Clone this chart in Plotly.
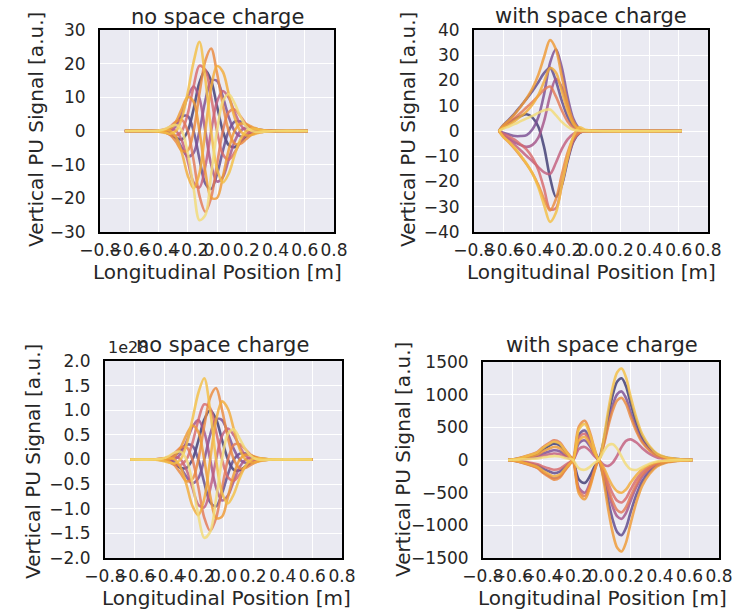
import plotly.graph_objects as go

# ---------------- tick definitions ----------------
X_TICKS = [-0.8, -0.6, -0.4, -0.2, 0.0, 0.2, 0.4, 0.6, 0.8]
X_TICK_TEXT = ["\u22120.8", "\u22120.6", "\u22120.4", "\u22120.2", "0.0", "0.2", "0.4", "0.6", "0.8"]

TL_YTICKS = [-30, -20, -10, 0, 10, 20, 30]
TL_YTEXT = ["\u221230", "\u221220", "\u221210", "0", "10", "20", "30"]
TR_YTICKS = [-40, -30, -20, -10, 0, 10, 20, 30, 40]
TR_YTEXT = ["\u221240", "\u221230", "\u221220", "\u221210", "0", "10", "20", "30", "40"]
BL_YTICKS = [-2.0, -1.5, -1.0, -0.5, 0.0, 0.5, 1.0, 1.5, 2.0]
BL_YTEXT = ["\u22122.0", "\u22121.5", "\u22121.0", "\u22120.5", "0.0", "0.5", "1.0", "1.5", "2.0"]
BR_YTICKS = [-1500, -1000, -500, 0, 500, 1000, 1500]
BR_YTEXT = ["\u22121500", "\u22121000", "\u2212500", "0", "500", "1000", "1500"]

# ---------------- top-left: no space charge ----------------
TL_X = [-0.63, -0.46, -0.40, -0.36, -0.32, -0.28, -0.24, -0.20, -0.16, -0.12, -0.08,
        -0.04, 0.00, 0.04, 0.08, 0.12, 0.16, 0.20, 0.24, 0.28, 0.32, 0.40, 0.62]
TL_CURVES = [
    [0, 0, -0.1, -0.3, -1.0, -2.1, -2.5, 0, 6.5, 14.4, 18, 14.9, 7.4, 0, -4.2, -4.8, -3.3, -1.5, -0.4, 0, 0.1, 0, 0],
    [0, 0, 0, 0.2, 0.9, 2.4, 4.3, 4.4, 0, -8.3, -15.6, -17.2, -12.9, -5.9, 0, 2.8, 2.8, 1.8, 0.7, 0.2, 0, 0, 0],
    [0, 0, 0.1, 0, -0.5, -2.1, -5.0, -7.6, -6.5, 0, 9.0, 14.9, 14.9, 10.2, 4.2, 0, -1.6, -1.5, -0.9, -0.3, -0.1, 0, 0],
    [0, 0, -0.1, -0.2, 0, 1.4, 5.1, 10.2, 13.2, 9.7, 0, -10.0, -15.0, -13.7, -8.5, -3.2, 0, 1.0, 0.9, 0.5, 0.2, 0, 0],
    [0, 0, 0.1, 0.4, 0.6, 0, -2.9, -8.9, -15.3, -16.8, -10.5, 0, 8.7, 11.9, 9.9, 5.6, 1.9, 0, -0.5, -0.4, -0.2, 0, 0],
    [0, 0, -0.1, -0.4, -1.0, -1.4, 0, 5.1, 13.2, 19.4, 18.2, 10.0, 0, -6.9, -8.5, -6.4, -3.3, -1.0, 0, 0.2, 0.2, 0, 0],
    [0, 0, 0.1, 0.4, 1.3, 2.8, 3.3, 0, -8.7, -19.2, -24.0, -19.8, -9.9, 0, 5.6, 6.4, 4.4, 2.0, 0.6, 0, -0.1, 0, 0],
    [0, 0, 0, -0.2, -1.2, -3.2, -5.8, -5.8, 0, 11.1, 20.8, 24.5, 17.2, 7.8, 0, -3.7, -3.8, -2.4, -1.0, -0.3, 0, 0, 0],
    [0, 0, -0.1, 0, 0.7, 2.8, 6.7, 10.1, 8.7, 0, -12.0, -19.8, -19.9, -13.6, -5.6, 0, 2.2, 2.0, 1.2, 0.5, 0.1, 0, 0],
    [0, 0, 0.1, 0.3, 0, -1.8, -6.5, -13.2, -17.0, -12.5, 0, 12.9, 19.3, 17.6, 11.0, 4.1, 0, -1.3, -1.1, -0.6, -0.2, 0, 0],
    [0, 0, -0.2, -0.5, -0.8, 0, 3.8, 11.4, 20.5, 26.5, 15.5, 0, -11.2, -15.3, -12.7, -7.2, -2.5, 0, 0.7, 0.5, 0.2, 0, 0],
    [0, 0, 0.1, 0.5, 1.3, 1.8, 0, -6.6, -17.0, -26.5, -25.0, -12.9, 0, 8.8, 11.0, 8.3, 4.3, 1.3, 0, -0.3, -0.2, 0, 0],
]

# ---------------- top-right: with space charge ----------------
TR_X = [-0.63, -0.60, -0.56, -0.52, -0.48, -0.44, -0.40, -0.36, -0.32, -0.28, -0.24,
        -0.20, -0.16, -0.12, -0.08, -0.04, 0.05, 0.62]
TR_CURVES = [
    [0, 1.6, 3.2, 4.8, 5.9, 6.6, 5.3, 1.7, -6.6, -18.5, -26.1, -21.6, -11.9, -4.1, -0.9, 0, 0, 0],
    [0, 2.3, 4.6, 7.1, 9.9, 12.8, 15.8, 19.3, 23.0, 25.0, 19.8, 12.0, 5.7, 1.9, 0.4, 0, 0, 0],
    [0, -0.7, -1.4, -2.0, -2.0, -1.6, 0.7, 5.5, 14.8, 27.0, 32.4, 25.2, 13.5, 4.7, 1.0, 0, 0, 0],
    [0, -1.5, -3.0, -4.5, -5.6, -6.3, -5.5, -2.6, 4.1, 14.0, 20.7, 17.4, 9.6, 3.4, 0.7, 0, 0, 0],
    [0, -1.8, -3.6, -5.6, -7.7, -9.9, -12.0, -14.3, -16.4, -17.0, -12.6, -7.2, -3.3, -1.1, -0.2, 0, 0, 0],
    [0, -1.1, -2.2, -3.5, -5.3, -7.4, -10.6, -15.5, -23.0, -31.0, -30.6, -21.6, -11.1, -3.8, -0.8, 0, 0, 0],
    [0, 1.7, 3.4, 5.2, 7.2, 9.4, 11.5, 13.9, 16.4, 17.6, 13.7, 8.2, 3.8, 1.2, 0.2, 0, 0, 0],
    [0, -2.3, -4.6, -7.2, -10.1, -13.2, -16.8, -21.4, -27.1, -31.5, -27.0, -17.4, -8.6, -2.8, -0.6, 0, 0, 0],
    [0, 2.2, 4.3, 6.8, 9.7, 13.0, 16.9, 22.3, 29.5, 36.0, 32.4, 21.6, 10.8, 3.6, 0.7, 0, 0, 0],
    [0, 1.3, 2.5, 4.0, 5.8, 7.8, 10.5, 14.3, 19.7, 24.9, 23.2, 15.8, 8.0, 2.7, 0.5, 0, 0, 0],
    [0, -2.2, -4.3, -6.8, -9.7, -13.0, -16.9, -22.3, -29.5, -36.0, -32.4, -21.6, -10.8, -2.0, 1.5, 0.5, 0, 0],
    [0, 0.9, 1.8, 2.8, 3.9, 5.0, 6.0, 7.2, 8.2, 8.5, 6.3, 3.6, 1.7, 0.5, 0.1, 0, 0, 0],
]

# ---------------- bottom-left: no space charge (units of 1e28) ----------------
BL_X = [-0.63, -0.47, -0.41, -0.37, -0.33, -0.29, -0.25, -0.21, -0.17, -0.13, -0.09,
        -0.05, -0.01, 0.03, 0.07, 0.11, 0.15, 0.19, 0.23, 0.27, 0.33, 0.60]
BL_CURVES = [
    [0, 0, -0.01, -0.03, -0.09, -0.17, -0.17, 0, 0.38, 0.81, 1.0, 0.82, 0.40, 0, -0.21, -0.22, -0.14, -0.06, -0.01, 0, 0, 0],
    [0, 0, 0, 0.02, 0.08, 0.19, 0.30, 0.28, 0, -0.47, -0.87, -0.95, -0.69, -0.30, 0, 0.12, 0.12, 0.07, 0.02, 0.01, 0, 0],
    [0, 0, 0.01, 0, -0.05, -0.17, -0.35, -0.48, -0.38, 0, 0.50, 0.82, 0.80, 0.53, 0.21, 0, -0.07, -0.06, -0.03, -0.01, 0, 0],
    [0, 0, -0.01, -0.02, 0, 0.11, 0.36, 0.66, 0.80, 0.56, 0, -0.57, -0.83, -0.73, -0.43, -0.15, 0, 0.04, 0.03, 0.01, 0, 0],
    [0, 0, 0.02, 0.04, 0.06, 0, -0.21, -0.57, -0.92, -0.97, -0.60, 0, 0.48, 0.63, 0.49, 0.26, 0.08, 0, -0.02, -0.01, 0, 0],
    [0, 0, -0.01, -0.05, -0.10, -0.11, 0, 0.33, 0.80, 1.12, 1.04, 0.57, 0, -0.36, -0.43, -0.30, -0.14, -0.04, 0, 0.01, 0, 0],
    [0, 0, 0.01, 0.05, 0.13, 0.24, 0.25, 0, -0.56, -1.18, -1.45, -1.19, -0.58, 0, 0.30, 0.31, 0.20, 0.08, 0.02, 0, 0, 0],
    [0, 0, 0, -0.03, -0.12, -0.28, -0.44, -0.40, 0, 0.68, 1.26, 1.45, 1.01, 0.44, 0, -0.18, -0.17, -0.10, -0.04, -0.01, 0, 0],
    [0, 0, -0.01, 0, 0.07, 0.24, 0.50, 0.69, 0.56, 0, -0.73, -1.19, -1.16, -0.76, -0.30, 0, 0.10, 0.08, 0.04, 0.01, 0, 0],
    [0, 0, 0.02, 0.03, 0, -0.16, -0.51, -0.94, -1.13, -0.80, 0, 0.80, 1.18, 1.03, 0.61, 0.21, 0, -0.06, -0.04, -0.02, 0, 0],
    [0, 0, -0.03, -0.06, -0.08, 0, 0.30, 0.81, 1.35, 1.65, 1.0, 0, -0.68, -0.89, -0.70, -0.37, -0.12, 0, 0.02, 0.02, 0, 0],
    [0, 0, 0.02, 0.07, 0.14, 0.16, 0, -0.47, -1.13, -1.59, -1.47, -0.80, 0, 0.52, 0.61, 0.42, 0.20, 0.06, 0, -0.01, 0, 0],
]

# ---------------- bottom-right: with space charge ----------------
BR_X = [-0.63, -0.58, -0.53, -0.48, -0.43, -0.39, -0.35, -0.32, -0.28, -0.25, -0.22,
        -0.19, -0.15, -0.11, -0.075, -0.045, -0.015, 0.02, 0.05, 0.08, 0.11, 0.14, 0.17,
        0.20, 0.24, 0.28, 0.33, 0.38, 0.44, 0.52, 0.62]
BR_CURVES = [
    [0, 13, 38, 68, 105, 170, 220, 250, 225, 150, 75, 0, -298, -350, -245, -105, 0, 313, 688, 1000, 1200, 1250, 1125, 875, 575, 350, 188, 88, 38, 13, 0],
    [0, -10, -30, -54, -84, -136, -176, -200, -180, -120, -60, 0, 383, 450, 315, 135, 0, -288, -633, -920, -1104, -1150, -1035, -805, -529, -322, -173, -81, -35, -12, 0],
    [0, 8, 23, 41, 63, 102, 132, 150, 135, 90, 45, 0, 255, 300, 210, 90, 0, 263, 578, 840, 1008, 1050, 945, 735, 483, 294, 158, 74, 32, 11, 0],
    [0, -14, -42, -76, -118, -190, -246, -280, -252, -168, -84, 0, -425, -500, -350, -150, 0, -225, -495, -720, -864, -900, -810, -630, -414, -252, -135, -63, -27, -9, 0],
    [0, 5, 15, 27, 42, 68, 88, 100, 90, 60, 30, 0, 170, 200, 140, 60, 0, -75, -90, -40, 67, 200, 293, 315, 267, 181, 93, 39, 16, 5, 0],
    [0, -8, -23, -41, -63, -102, -132, -150, -135, -90, -45, 0, 340, 400, 280, 120, 0, -163, -358, -520, -624, -650, -585, -455, -299, -182, -98, -46, -20, -7, 0],
    [0, 15, 45, 81, 126, 204, 264, 300, 270, 180, 90, 0, -468, -550, -385, -165, 0, -200, -440, -640, -768, -800, -720, -560, -368, -224, -120, -56, -24, -8, 0],
    [0, -15, -45, -81, -126, -204, -264, -300, -270, -180, -90, 0, 510, 600, 420, 180, 0, 238, 523, 760, 912, 950, 855, 665, 437, 266, 143, 67, 29, 10, 0],
    [0, 10, 30, 54, 84, 136, 176, 200, 180, 120, 60, 0, -510, -600, -420, -180, 0, -350, -770, -1120, -1344, -1400, -1260, -980, -644, -392, -210, -98, -42, -14, 0],
    [0, -13, -38, -68, -105, -170, -220, -250, -225, -150, -75, 0, 298, 350, 245, 105, 0, -125, -275, -400, -480, -500, -450, -350, -230, -140, -75, -35, -15, -5, 0],
    [0, 14, 42, 76, 118, 190, 246, 280, 252, 168, 84, 0, 468, 550, 385, 165, 0, 350, 770, 1120, 1344, 1400, 1260, 980, 644, 392, 210, 98, 42, 14, 0],
    [0, 3, 9, 16, 25, 41, 53, 60, 54, 36, 18, 0, -128, -150, -105, -45, 0, 138, 228, 240, 173, 50, -68, -140, -152, -111, -55, -22, -9, -2, 0],
]

CURVE_COLORS = ["#3f3b72", "#5e4a8c", "#7d4f93", "#a5558a", "#c35f7d", "#d86a6c",
                "#e57a55", "#ec8a3e", "#f09a35", "#f3ad3a", "#f4c046", "#f3dc78"]

TITLES = ["no space charge", "with space charge", "no space charge", "with space charge"]
X_LABEL = "Longitudinal Position [m]"
Y_LABEL = "Vertical PU Signal [a.u.]"

FONT = "DejaVu Sans"
TXT = "#262626"
W, H = 740, 612

fig = go.Figure()

panels = [
    ("x", "y", TL_X, TL_CURVES),
    ("x2", "y2", TR_X, TR_CURVES),
    ("x3", "y3", BL_X, BL_CURVES),
    ("x4", "y4", BR_X, BR_CURVES),
]
for xa, ya, xs, curves in panels:
    for i, ys in enumerate(curves):
        fig.add_trace(go.Scatter(
            x=xs, y=ys, mode="lines", xaxis=xa, yaxis=ya,
            line=dict(color=CURVE_COLORS[i], width=2.6, shape="spline", smoothing=0.9),
            opacity=0.82, showlegend=False, hoverinfo="skip"))

# panel frames in pixels: (left, right, top, bottom)
frames = [(100, 334, 30, 232), (474, 708, 30, 232), (105, 342, 361, 558), (483, 719, 362, 558)]
yinfo = [([-30, 30], TL_YTICKS, TL_YTEXT), ([-40, 40], TR_YTICKS, TR_YTEXT),
         ([-2, 2], BL_YTICKS, BL_YTEXT), ([-1500, 1500], BR_YTICKS, BR_YTEXT)]

tickfont = dict(family=FONT, size=17, color=TXT)
common = dict(showgrid=True, gridcolor="white", gridwidth=1.3, zeroline=False,
              showline=True, linecolor="black", linewidth=2, mirror=True,
              ticks="", tickfont=tickfont, automargin=False)

layout = dict(width=W, height=H, margin=dict(l=0, r=0, t=0, b=0, pad=0),
              paper_bgcolor="white", plot_bgcolor="#EAEAF2", showlegend=False)

for k, ((l, r, t, b), (yr, yt, ytt)) in enumerate(zip(frames, yinfo)):
    sfx = "" if k == 0 else str(k + 1)
    layout["xaxis" + sfx] = dict(domain=[l / W, r / W], range=[-0.8, 0.8],
                                 tickvals=X_TICKS, ticktext=X_TICK_TEXT, tickangle=0,
                                 anchor="y" + sfx, ticklabelstandoff=2, **common)
    layout["yaxis" + sfx] = dict(domain=[1 - b / H, 1 - t / H], range=yr,
                                 tickvals=yt, ticktext=ytt, anchor="x" + sfx,
                                 ticklabelstandoff=9, **common)

fig.update_layout(**layout)

ann = []
title_pos = [(217, 17), (591, 16), (223, 345), (602, 345)]
xlab_pos = [(217, 272), (591, 272), (226, 598), (602, 598)]
ylab_pos = [(36, 130), (408, 130), (33, 462), (403, 460)]
for k in range(4):
    tx, ty = title_pos[k]
    ann.append(dict(text=TITLES[k], x=tx / W, y=1 - ty / H, xref="paper", yref="paper",
                    showarrow=False, xanchor="center", yanchor="middle",
                    font=dict(family=FONT, size=21, color=TXT)))
    lx, ly = xlab_pos[k]
    ann.append(dict(text=X_LABEL, x=lx / W, y=1 - ly / H, xref="paper", yref="paper",
                    showarrow=False, xanchor="center", yanchor="middle",
                    font=dict(family=FONT, size=20, color=TXT)))
    vx, vy = ylab_pos[k]
    ann.append(dict(text=Y_LABEL, x=vx / W, y=1 - vy / H, xref="paper", yref="paper",
                    showarrow=False, xanchor="center", yanchor="middle", textangle=-90,
                    font=dict(family=FONT, size=20, color=TXT)))
ann.append(dict(text="1e28", x=106 / W, y=1 - 347 / H, xref="paper", yref="paper",
                showarrow=False, xanchor="left", yanchor="middle",
                font=dict(family=FONT, size=16, color=TXT)))
fig.update_layout(annotations=ann)

fig.write_html("out.html")
